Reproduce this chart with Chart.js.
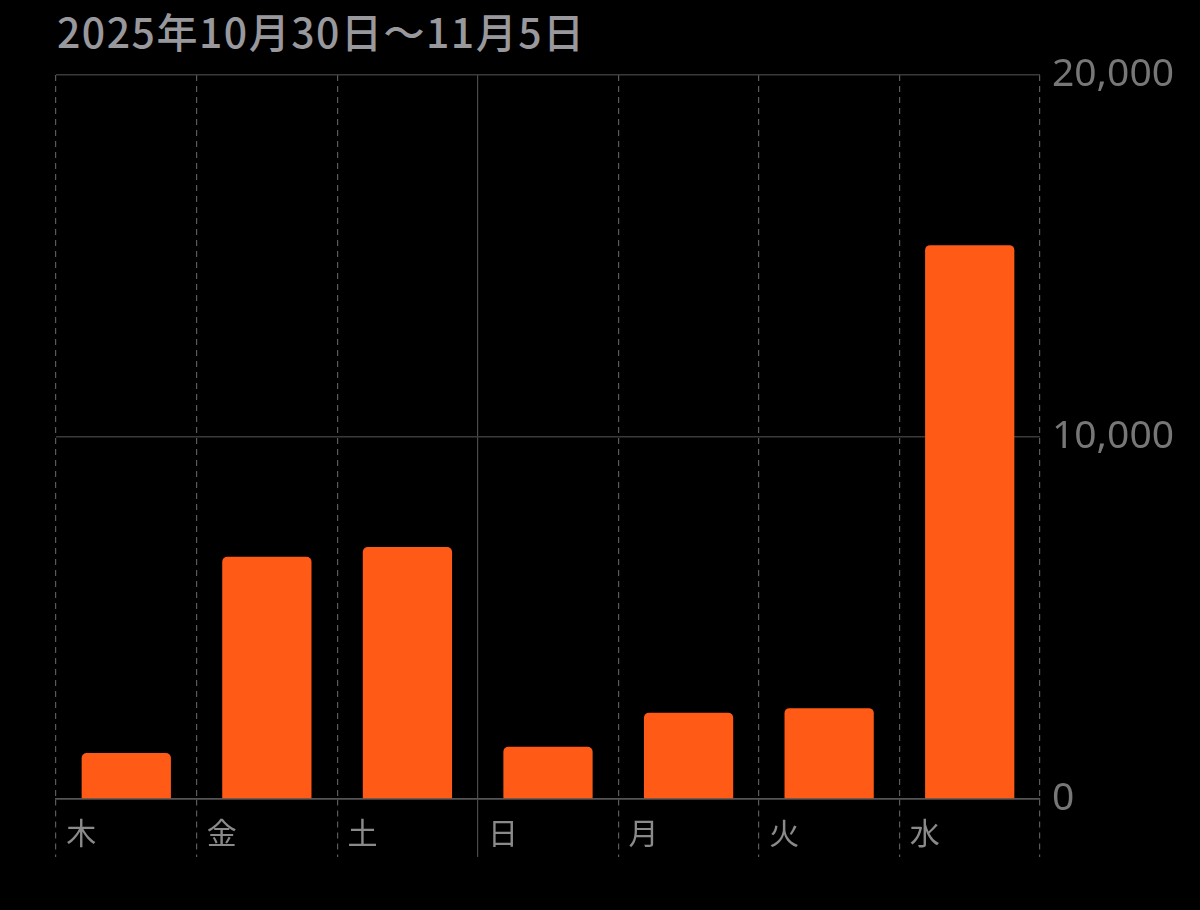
<!DOCTYPE html>
<html lang="ja">
<head>
<meta charset="utf-8">
<title>2025年10月30日〜11月5日</title>
<script src="https://cdn.jsdelivr.net/npm/chart.js@4.4.1/dist/chart.umd.min.js"></script>
<style>
  html, body { margin: 0; padding: 0; background: #000; }
  #wrap { position: relative; width: 1200px; height: 910px; }
  #title {
    position: absolute; left: 57px; top: 0px;
    font-family: "Noto Sans CJK JP", "Noto Sans", sans-serif;
    font-weight: 500; font-size: 41px; line-height: 60px; color: #98989d;
    letter-spacing: 1.5px; white-space: nowrap;
  }
  #chartBox { position: absolute; left: 0; top: 0; width: 1200px; height: 910px; }
</style>
</head>
<body>
<div id="wrap">
  <div id="title">2025年10月30日〜11月5日</div>
  <div id="chartBox"><canvas id="stepsChart"></canvas></div>
</div>
<script>
  // --- data ---
  const days = ["木", "金", "土", "日", "月", "火", "水"];
  const steps = [1270, 6690, 6960, 1440, 2380, 2510, 15300];
  const yTicks = [0, 10000, 20000];

  const barColor = "#ff5a16";
  const gridColor = "#3a3a3a";
  const dashColor = "#5a5a5a";

  const ctx = document.getElementById("stepsChart");

  new Chart(ctx, {
    type: "bar",
    data: {
      labels: days,
      datasets: [{
        data: steps,
        backgroundColor: barColor,
        borderRadius: { topLeft: 5, topRight: 5 },
        borderSkipped: "bottom",
        barPercentage: 0.635,
        categoryPercentage: 1
      }]
    },
    options: {
      responsive: true,
      maintainAspectRatio: false,
      animation: false,
      layout: { padding: { top: 75, left: 56, right: 10, bottom: 53 } },
      plugins: {
        legend: { display: false },
        tooltip: { enabled: false }
      },
      scales: {
        x: {
          offset: true,
          grid: {
            offset: true,
            color: c => c.index === 3 ? "#4a4a4a" : dashColor,
            lineWidth: 1.2,
            drawTicks: true,
            tickLength: 58,
            tickColor: c => c.index === 3 ? "#4a4a4a" : dashColor,
            tickBorderDash: c => c.index === 3 ? [] : [6, 5],
            tickWidth: 1.2
          },
          border: {
            display: true,
            color: "#555",
            width: 1.5,
            dash: c => c.index === 3 ? [] : [6, 5]
          },
          ticks: {
            color: "#8a8a8a",
            font: { family: "'Noto Sans CJK JP', sans-serif", size: 30 },
            align: "start",
            labelOffset: -60,
            padding: -42,
            maxRotation: 0,
            autoSkip: false
          },
          afterFit: s => { s.height = 58; }
        },
        y: {
          position: "right",
          min: 0,
          max: 20000,
          afterBuildTicks: s => { s.ticks = yTicks.map(v => ({ value: v })); },
          grid: {
            color: c => c.tick && c.tick.value === 0 ? "#555" : gridColor,
            lineWidth: 1.5,
            drawTicks: false
          },
          border: { display: false },
          ticks: {
            color: "#777",
            padding: 12,
            font: { family: "'Noto Sans', sans-serif", size: 39 },
            callback: v => v.toLocaleString("en-US")
          },
          afterFit: s => { s.width = 150; }
        }
      }
    }
  });
</script>
</body>
</html>
